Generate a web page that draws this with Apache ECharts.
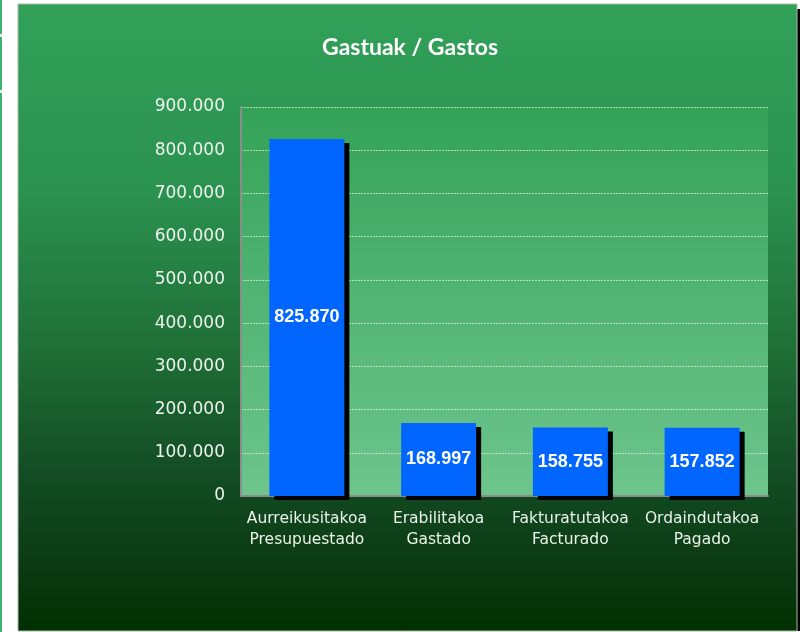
<!DOCTYPE html>
<html><head><meta charset="utf-8">
<script src="https://cdn.jsdelivr.net/npm/echarts@6/dist/echarts.min.js"></script>
<style>html,body{margin:0;padding:0;background:#fff;}#c{width:803px;height:632px;}</style>
</head><body><div id="c"></div>
<script>
const categories = ['Aurreikusitakoa\nPresupuestado', 'Erabilitakoa\nGastado', 'Fakturatutakoa\nFacturado', 'Ordaindutakoa\nPagado'];
const values = [825870, 168997, 158755, 157852];
const yTicks = [0, 100000, 200000, 300000, 400000, 500000, 600000, 700000, 800000, 900000];

function fmt(v){ return String(v).replace(/\B(?=(\d{3})+(?!\d))/g, '.'); }

const chart = echarts.init(document.getElementById('c'), null, {renderer:'canvas'});
chart.setOption({
  animation:false,
  backgroundColor:'#ffffff',
  graphic:[
    {type:'rect', shape:{x:797, y:9, width:3, height:622}, style:{fill:'#000'}, z:-10},
    {type:'rect', shape:{x:18, y:4, width:779, height:627},
      style:{fill:new echarts.graphic.LinearGradient(0,0,0,1,[
        {offset:0,color:'#31a158'},{offset:0.3,color:'#2b9250'},{offset:0.55,color:'#1f6f36'},
        {offset:0.75,color:'#134c24'},{offset:0.9,color:'#0b3a12'},{offset:1,color:'#003000'}]),
        stroke:'#a8b8a8', lineWidth:1}, z:-9},
    {type:'rect', shape:{x:241, y:107, width:527, height:389},
      style:{fill:new echarts.graphic.LinearGradient(0,0,0,1,[
        {offset:0,color:'#33a257'},{offset:0.5,color:'#52b574'},{offset:1,color:'#6dc58c'}])}, z:-8},
    {type:'rect', shape:{x:0, y:0, width:2, height:34}, style:{fill:'#3cb371'}, z:-7},
    {type:'rect', shape:{x:0, y:37, width:2, height:53}, style:{fill:'#3cb371'}, z:-7},
    {type:'rect', shape:{x:0, y:93, width:2, height:539}, style:{fill:'#3cb371'}, z:-7}
  ],
  title:{text:'Gastuak / Gastos', left:405, top:31, textAlign:'center',
    textStyle:{color:'#ffffff', fontFamily:'Lato', fontWeight:'bold', fontSize:23}},
  grid:{left:241, right:35, top:107, bottom:136, containLabel:false},
  xAxis:{type:'category', data:categories,
    axisLine:{show:true, lineStyle:{color:'#8c8c8c', width:2}},
    axisTick:{show:false},
    axisLabel:{interval:0, color:'#eaf2ea', fontFamily:'DejaVu Sans', fontSize:15.5, lineHeight:21, margin:12}},
  yAxis:{type:'value', min:yTicks[0], max:yTicks[yTicks.length-1], interval:100000,
    axisLine:{show:true, lineStyle:{color:'#8c8c8c', width:2}},
    axisTick:{show:false},
    splitLine:{show:true, lineStyle:{color:'rgba(220,240,220,0.75)', type:[2,1], width:1}},
    axisLabel:{color:'#eef4ee', fontFamily:'DejaVu Sans', fontSize:17, margin:16, formatter:fmt}},
  series:[{type:'bar', data:values, barWidth:75,
    itemStyle:{color:'#0066ff', shadowColor:'#000', shadowOffsetX:5, shadowOffsetY:4, shadowBlur:0},
    label:{show:true, position:'inside', color:'#ffffff', fontFamily:'Liberation Sans', fontWeight:'bold', fontSize:18, formatter:p=>fmt(p.value)}}]
});
</script></body></html>
